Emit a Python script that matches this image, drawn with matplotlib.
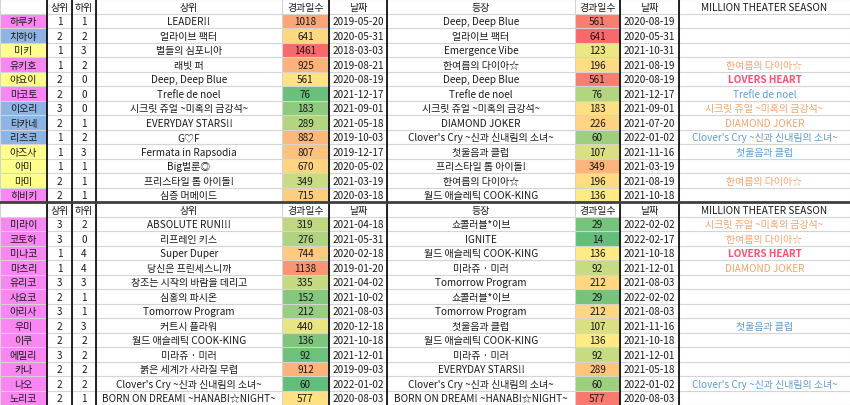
import matplotlib
matplotlib.use("Agg")
import matplotlib.pyplot as plt
from matplotlib.patches import Rectangle
import numpy as np

plt.rcParams['font.family'] = ['Noto Sans CJK KR', 'DejaVu Sans']

headers = ["", "상위", "하위", "상위", "경과일수", "날짜", "등장", "경과일수", "날짜", "MILLION THEATER SEASON"]

# ---------------- top table (765PRO) ----------------
top_names = ["하루카", "치하야", "미키", "유키호", "야요이", "마코토", "이오리", "타카네", "리츠코", "아즈사", "아미", "마미", "히비키"]
top_types = ["P", "F", "A", "P", "A", "P", "F", "F", "F", "A", "A", "A", "P"]
top_upper_cnt = [1, 2, 1, 1, 2, 2, 3, 2, 1, 1, 1, 2, 2]
top_lower_cnt = [1, 2, 3, 2, 0, 0, 0, 1, 2, 3, 1, 1, 1]
top_upper_song = ["LEADER!!", "얼라이브 팩터", "별들의 심포니아", "래빗 퍼", "Deep, Deep Blue",
                  "Trefle de noel", "시크릿 쥬얼 ~미혹의 금강석~", "EVERYDAY STARS!!", "G♡F",
                  "Fermata in Rapsodia", "Big벌룬◎", "프리스타일 톱 아이돌!", "심층 머메이드"]
top_days1 = [1018, 641, 1461, 925, 561, 76, 183, 289, 882, 807, 670, 349, 715]
top_date1 = ["2019-05-20", "2020-05-31", "2018-03-03", "2019-08-21", "2020-08-19", "2021-12-17",
             "2021-09-01", "2021-05-18", "2019-10-03", "2019-12-17", "2020-05-02", "2021-03-19", "2020-03-18"]
top_appear = ["Deep, Deep Blue", "얼라이브 팩터", "Emergence Vibe", "한여름의 다이아☆", "Deep, Deep Blue",
              "Trefle de noel", "시크릿 쥬얼 ~미혹의 금강석~", "DIAMOND JOKER", "Clover's Cry ~신과 신내림의 소녀~",
              "첫울음과 클럽", "프리스타일 톱 아이돌!", "한여름의 다이아☆", "월드 애슬레틱 COOK-KING"]
top_days2 = [561, 641, 123, 196, 561, 76, 183, 226, 60, 107, 349, 196, 136]
top_date2 = ["2020-08-19", "2020-05-31", "2021-10-31", "2021-08-19", "2020-08-19", "2021-12-17",
             "2021-09-01", "2021-07-20", "2022-01-02", "2021-11-16", "2021-03-19", "2021-08-19", "2021-10-18"]
top_mts = ["", "", "", "한여름의 다이아☆", "LOVERS HEART", "Trefle de noel", "시크릿 쥬얼 ~미혹의 금강석~",
           "DIAMOND JOKER", "Clover's Cry ~신과 신내림의 소녀~", "첫울음과 클럽", "", "한여름의 다이아☆", ""]

# ---------------- bottom table (39 Project) ----------------
bot_names = ["미라이", "코토하", "미나코", "마츠리", "유리코", "사요코", "아리사", "우미", "이쿠", "에밀리", "카나", "나오", "노리코"]
bot_types = ["P"] * 13
bot_upper_cnt = [3, 3, 1, 1, 3, 2, 3, 2, 2, 3, 2, 2, 2]
bot_lower_cnt = [2, 0, 4, 4, 3, 1, 1, 3, 2, 2, 2, 2, 1]
bot_upper_song = ["ABSOLUTE RUN!!!", "리프레인 키스", "Super Duper", "당신은 프린세스니까", "창조는 시작의 바람을 데리고",
                  "심홍의 파시온", "Tomorrow Program", "커트시 플라워", "월드 애슬레틱 COOK-KING", "미라쥬 · 미러",
                  "붉은 세계가 사라질 무렵", "Clover's Cry ~신과 신내림의 소녀~", "BORN ON DREAM! ~HANABI☆NIGHT~"]
bot_days1 = [319, 276, 744, 1138, 335, 152, 212, 440, 136, 92, 912, 60, 577]
bot_date1 = ["2021-04-18", "2021-05-31", "2020-02-18", "2019-01-20", "2021-04-02", "2021-10-02", "2021-08-03",
             "2020-12-18", "2021-10-18", "2021-12-01", "2019-09-03", "2022-01-02", "2020-08-03"]
bot_appear = ["쇼콜러블*이브", "IGNITE", "월드 애슬레틱 COOK-KING", "미라쥬 · 미러", "Tomorrow Program", "쇼콜러블*이브",
              "Tomorrow Program", "첫울음과 클럽", "월드 애슬레틱 COOK-KING", "미라쥬 · 미러", "EVERYDAY STARS!!",
              "Clover's Cry ~신과 신내림의 소녀~", "BORN ON DREAM! ~HANABI☆NIGHT~"]
bot_days2 = [29, 14, 136, 92, 212, 29, 212, 107, 136, 92, 289, 60, 577]
bot_date2 = ["2022-02-02", "2022-02-17", "2021-10-18", "2021-12-01", "2021-08-03", "2022-02-02", "2021-08-03",
             "2021-11-16", "2021-10-18", "2021-12-01", "2021-05-18", "2022-01-02", "2020-08-03"]
bot_mts = ["시크릿 쥬얼 ~미혹의 금강석~", "한여름의 다이아☆", "LOVERS HEART", "DIAMOND JOKER", "", "", "",
           "첫울음과 클럽", "", "", "", "Clover's Cry ~신과 신내림의 소녀~", ""]

# ---------------- styles ----------------
type_colors = {"P": "#F986F2", "F": "#8DB4E2", "A": "#FFFF8C"}
mts_colors = {"LOVERS HEART": "#FF4F74", "Trefle de noel": "#5B9BD5", "Clover's Cry ~신과 신내림의 소녀~": "#5B9BD5",
              "첫울음과 클럽": "#5B9BD5"}
mts_default = "#F7A36A"

W, H = 850, 406
fig = plt.figure(figsize=(8.5, 4.06), dpi=100)
ax = fig.add_axes([0, 0, 1, 1])
ax.set_xlim(0, W)
ax.set_ylim(H, 0)
ax.axis('off')

col_edges = [0, 47, 72, 96, 282, 329, 387, 575, 620, 679, 850]
n_rows_total = 2 + len(top_names) + len(bot_names)
row_h = H / n_rows_total
FS = 7.2
TXT = "#1a1a1a"

c_min = np.array([99, 190, 123]) / 255
c_mid = np.array([255, 235, 132]) / 255
c_max = np.array([248, 105, 107]) / 255


def scale_fn(values):
    v = np.asarray(values, float)
    lo, mid, hi = v.min(), np.percentile(v, 50), v.max()

    def f(x):
        if x <= mid:
            t = (x - lo) / (mid - lo) if mid > lo else 0
            return tuple(c_min + (c_mid - c_min) * t)
        t = (x - mid) / (hi - mid) if hi > mid else 0
        return tuple(c_mid + (c_max - c_mid) * t)
    return f


scale1 = scale_fn(top_days1 + bot_days1)
scale2 = scale_fn(top_days2 + bot_days2)


def cell(ci, ri, text, bg=None, color=TXT, weight="normal"):
    x0, x1 = col_edges[ci], col_edges[ci + 1]
    y0 = ri * row_h
    if bg is not None:
        ax.add_patch(Rectangle((x0, y0), x1 - x0, row_h, facecolor=bg, edgecolor="none", zorder=1))
    if text:
        ax.text((x0 + x1) / 2, y0 + row_h / 2 + 0.3, text, ha="center", va="center", fontsize=FS,
                color=color, fontweight=weight, zorder=3)


def block(start, names, types, up, lo, usong, d1, dt1, app, d2, dt2, mts):
    for ci, h in enumerate(headers):
        cell(ci, start, h, bg="white")
    for i in range(len(names)):
        r = start + 1 + i
        cell(0, r, names[i], bg=type_colors[types[i]])
        cell(1, r, str(up[i]), bg="white")
        cell(2, r, str(lo[i]), bg="white")
        cell(3, r, usong[i], bg="white")
        cell(4, r, str(d1[i]), bg=scale1(d1[i]))
        cell(5, r, dt1[i], bg="white")
        cell(6, r, app[i], bg="white")
        cell(7, r, str(d2[i]), bg=scale2(d2[i]))
        cell(8, r, dt2[i], bg="white")
        m = mts[i]
        if m:
            cell(9, r, m, color=mts_colors.get(m, mts_default),
                 weight="bold" if m == "LOVERS HEART" else "normal")


block(0, top_names, top_types, top_upper_cnt, top_lower_cnt, top_upper_song, top_days1, top_date1,
      top_appear, top_days2, top_date2, top_mts)
block(1 + len(top_names), bot_names, bot_types, bot_upper_cnt, bot_lower_cnt, bot_upper_song, bot_days1,
      bot_date1, bot_appear, bot_days2, bot_date2, bot_mts)

# grid lines
for k in range(n_rows_total + 1):
    ax.plot([0, W], [k * row_h] * 2, color="#D4D4D4", lw=0.8, zorder=2)
for x in col_edges:
    ax.plot([x, x], [0, H], color="#D4D4D4", lw=0.8, zorder=2)
for x in [47, 72, 96, 329, 387, 620, 679]:
    ax.plot([x, x], [0, H], color="#000000", lw=1.2, zorder=4)
sep = (1 + len(top_names)) * row_h
ax.plot([0, W], [sep, sep], color="#404040", lw=2.0, zorder=4)

fig.savefig("out.png", dpi=100)
